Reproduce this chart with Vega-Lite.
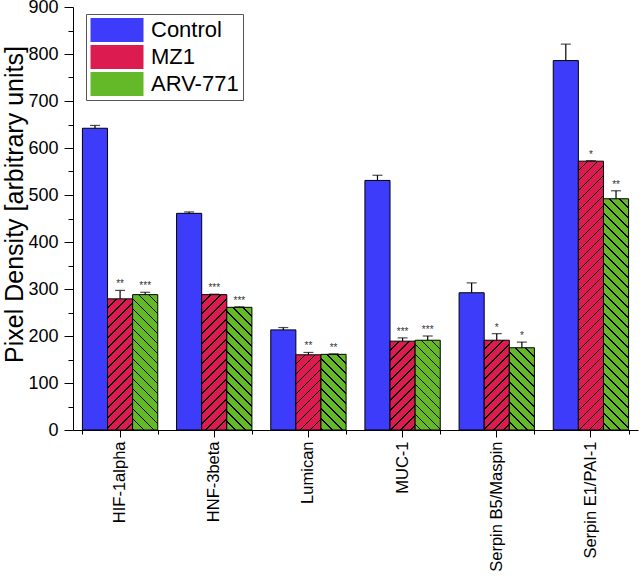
{
  "$schema": "https://vega.github.io/schema/vega-lite/v6.json",
  "width": 565,
  "height": 423,
  "autosize": {"type": "none"},
  "padding": {"left": 73, "top": 7, "right": 5, "bottom": 146},
  "background": "white",
  "params": [
    {"name": "sR", "value": [
      {"offset":0,"color":"#dc1c50"},{"offset":0.0283,"color":"#dc1c50"},{"offset":0.0283,"color":"#000"},{"offset":0.0333,"color":"#000"},
      {"offset":0.0333,"color":"#dc1c50"},{"offset":0.0617,"color":"#dc1c50"},{"offset":0.0617,"color":"#000"},{"offset":0.0667,"color":"#000"},
      {"offset":0.0667,"color":"#dc1c50"},{"offset":0.095,"color":"#dc1c50"},{"offset":0.095,"color":"#000"},{"offset":0.1,"color":"#000"},
      {"offset":0.1,"color":"#dc1c50"},{"offset":0.1283,"color":"#dc1c50"},{"offset":0.1283,"color":"#000"},{"offset":0.1333,"color":"#000"},
      {"offset":0.1333,"color":"#dc1c50"},{"offset":0.1617,"color":"#dc1c50"},{"offset":0.1617,"color":"#000"},{"offset":0.1667,"color":"#000"},
      {"offset":0.1667,"color":"#dc1c50"},{"offset":0.195,"color":"#dc1c50"},{"offset":0.195,"color":"#000"},{"offset":0.2,"color":"#000"},
      {"offset":0.2,"color":"#dc1c50"},{"offset":0.2283,"color":"#dc1c50"},{"offset":0.2283,"color":"#000"},{"offset":0.2333,"color":"#000"},
      {"offset":0.2333,"color":"#dc1c50"},{"offset":0.2617,"color":"#dc1c50"},{"offset":0.2617,"color":"#000"},{"offset":0.2667,"color":"#000"},
      {"offset":0.2667,"color":"#dc1c50"},{"offset":0.295,"color":"#dc1c50"},{"offset":0.295,"color":"#000"},{"offset":0.3,"color":"#000"},
      {"offset":0.3,"color":"#dc1c50"},{"offset":0.3283,"color":"#dc1c50"},{"offset":0.3283,"color":"#000"},{"offset":0.3333,"color":"#000"},
      {"offset":0.3333,"color":"#dc1c50"},{"offset":0.3617,"color":"#dc1c50"},{"offset":0.3617,"color":"#000"},{"offset":0.3667,"color":"#000"},
      {"offset":0.3667,"color":"#dc1c50"},{"offset":0.395,"color":"#dc1c50"},{"offset":0.395,"color":"#000"},{"offset":0.4,"color":"#000"},
      {"offset":0.4,"color":"#dc1c50"},{"offset":0.4283,"color":"#dc1c50"},{"offset":0.4283,"color":"#000"},{"offset":0.4333,"color":"#000"},
      {"offset":0.4333,"color":"#dc1c50"},{"offset":0.4617,"color":"#dc1c50"},{"offset":0.4617,"color":"#000"},{"offset":0.4667,"color":"#000"},
      {"offset":0.4667,"color":"#dc1c50"},{"offset":0.495,"color":"#dc1c50"},{"offset":0.495,"color":"#000"},{"offset":0.5,"color":"#000"},
      {"offset":0.5,"color":"#dc1c50"},{"offset":0.5283,"color":"#dc1c50"},{"offset":0.5283,"color":"#000"},{"offset":0.5333,"color":"#000"},
      {"offset":0.5333,"color":"#dc1c50"},{"offset":0.5617,"color":"#dc1c50"},{"offset":0.5617,"color":"#000"},{"offset":0.5667,"color":"#000"},
      {"offset":0.5667,"color":"#dc1c50"},{"offset":0.595,"color":"#dc1c50"},{"offset":0.595,"color":"#000"},{"offset":0.6,"color":"#000"},
      {"offset":0.6,"color":"#dc1c50"},{"offset":0.6283,"color":"#dc1c50"},{"offset":0.6283,"color":"#000"},{"offset":0.6333,"color":"#000"},
      {"offset":0.6333,"color":"#dc1c50"},{"offset":0.6617,"color":"#dc1c50"},{"offset":0.6617,"color":"#000"},{"offset":0.6667,"color":"#000"},
      {"offset":0.6667,"color":"#dc1c50"},{"offset":0.695,"color":"#dc1c50"},{"offset":0.695,"color":"#000"},{"offset":0.7,"color":"#000"},
      {"offset":0.7,"color":"#dc1c50"},{"offset":0.7283,"color":"#dc1c50"},{"offset":0.7283,"color":"#000"},{"offset":0.7333,"color":"#000"},
      {"offset":0.7333,"color":"#dc1c50"},{"offset":0.7617,"color":"#dc1c50"},{"offset":0.7617,"color":"#000"},{"offset":0.7667,"color":"#000"},
      {"offset":0.7667,"color":"#dc1c50"},{"offset":0.795,"color":"#dc1c50"},{"offset":0.795,"color":"#000"},{"offset":0.8,"color":"#000"},
      {"offset":0.8,"color":"#dc1c50"},{"offset":0.8283,"color":"#dc1c50"},{"offset":0.8283,"color":"#000"},{"offset":0.8333,"color":"#000"},
      {"offset":0.8333,"color":"#dc1c50"},{"offset":0.8617,"color":"#dc1c50"},{"offset":0.8617,"color":"#000"},{"offset":0.8667,"color":"#000"},
      {"offset":0.8667,"color":"#dc1c50"},{"offset":0.895,"color":"#dc1c50"},{"offset":0.895,"color":"#000"},{"offset":0.9,"color":"#000"},
      {"offset":0.9,"color":"#dc1c50"},{"offset":0.9283,"color":"#dc1c50"},{"offset":0.9283,"color":"#000"},{"offset":0.9333,"color":"#000"},
      {"offset":0.9333,"color":"#dc1c50"},{"offset":0.9617,"color":"#dc1c50"},{"offset":0.9617,"color":"#000"},{"offset":0.9667,"color":"#000"},
      {"offset":0.9667,"color":"#dc1c50"},{"offset":0.995,"color":"#dc1c50"},{"offset":0.995,"color":"#000"},{"offset":1,"color":"#000"}
    ]},
    {"name": "sG", "value": [
      {"offset":0,"color":"#64b928"},{"offset":0.0283,"color":"#64b928"},{"offset":0.0283,"color":"#000"},{"offset":0.0333,"color":"#000"},
      {"offset":0.0333,"color":"#64b928"},{"offset":0.0617,"color":"#64b928"},{"offset":0.0617,"color":"#000"},{"offset":0.0667,"color":"#000"},
      {"offset":0.0667,"color":"#64b928"},{"offset":0.095,"color":"#64b928"},{"offset":0.095,"color":"#000"},{"offset":0.1,"color":"#000"},
      {"offset":0.1,"color":"#64b928"},{"offset":0.1283,"color":"#64b928"},{"offset":0.1283,"color":"#000"},{"offset":0.1333,"color":"#000"},
      {"offset":0.1333,"color":"#64b928"},{"offset":0.1617,"color":"#64b928"},{"offset":0.1617,"color":"#000"},{"offset":0.1667,"color":"#000"},
      {"offset":0.1667,"color":"#64b928"},{"offset":0.195,"color":"#64b928"},{"offset":0.195,"color":"#000"},{"offset":0.2,"color":"#000"},
      {"offset":0.2,"color":"#64b928"},{"offset":0.2283,"color":"#64b928"},{"offset":0.2283,"color":"#000"},{"offset":0.2333,"color":"#000"},
      {"offset":0.2333,"color":"#64b928"},{"offset":0.2617,"color":"#64b928"},{"offset":0.2617,"color":"#000"},{"offset":0.2667,"color":"#000"},
      {"offset":0.2667,"color":"#64b928"},{"offset":0.295,"color":"#64b928"},{"offset":0.295,"color":"#000"},{"offset":0.3,"color":"#000"},
      {"offset":0.3,"color":"#64b928"},{"offset":0.3283,"color":"#64b928"},{"offset":0.3283,"color":"#000"},{"offset":0.3333,"color":"#000"},
      {"offset":0.3333,"color":"#64b928"},{"offset":0.3617,"color":"#64b928"},{"offset":0.3617,"color":"#000"},{"offset":0.3667,"color":"#000"},
      {"offset":0.3667,"color":"#64b928"},{"offset":0.395,"color":"#64b928"},{"offset":0.395,"color":"#000"},{"offset":0.4,"color":"#000"},
      {"offset":0.4,"color":"#64b928"},{"offset":0.4283,"color":"#64b928"},{"offset":0.4283,"color":"#000"},{"offset":0.4333,"color":"#000"},
      {"offset":0.4333,"color":"#64b928"},{"offset":0.4617,"color":"#64b928"},{"offset":0.4617,"color":"#000"},{"offset":0.4667,"color":"#000"},
      {"offset":0.4667,"color":"#64b928"},{"offset":0.495,"color":"#64b928"},{"offset":0.495,"color":"#000"},{"offset":0.5,"color":"#000"},
      {"offset":0.5,"color":"#64b928"},{"offset":0.5283,"color":"#64b928"},{"offset":0.5283,"color":"#000"},{"offset":0.5333,"color":"#000"},
      {"offset":0.5333,"color":"#64b928"},{"offset":0.5617,"color":"#64b928"},{"offset":0.5617,"color":"#000"},{"offset":0.5667,"color":"#000"},
      {"offset":0.5667,"color":"#64b928"},{"offset":0.595,"color":"#64b928"},{"offset":0.595,"color":"#000"},{"offset":0.6,"color":"#000"},
      {"offset":0.6,"color":"#64b928"},{"offset":0.6283,"color":"#64b928"},{"offset":0.6283,"color":"#000"},{"offset":0.6333,"color":"#000"},
      {"offset":0.6333,"color":"#64b928"},{"offset":0.6617,"color":"#64b928"},{"offset":0.6617,"color":"#000"},{"offset":0.6667,"color":"#000"},
      {"offset":0.6667,"color":"#64b928"},{"offset":0.695,"color":"#64b928"},{"offset":0.695,"color":"#000"},{"offset":0.7,"color":"#000"},
      {"offset":0.7,"color":"#64b928"},{"offset":0.7283,"color":"#64b928"},{"offset":0.7283,"color":"#000"},{"offset":0.7333,"color":"#000"},
      {"offset":0.7333,"color":"#64b928"},{"offset":0.7617,"color":"#64b928"},{"offset":0.7617,"color":"#000"},{"offset":0.7667,"color":"#000"},
      {"offset":0.7667,"color":"#64b928"},{"offset":0.795,"color":"#64b928"},{"offset":0.795,"color":"#000"},{"offset":0.8,"color":"#000"},
      {"offset":0.8,"color":"#64b928"},{"offset":0.8283,"color":"#64b928"},{"offset":0.8283,"color":"#000"},{"offset":0.8333,"color":"#000"},
      {"offset":0.8333,"color":"#64b928"},{"offset":0.8617,"color":"#64b928"},{"offset":0.8617,"color":"#000"},{"offset":0.8667,"color":"#000"},
      {"offset":0.8667,"color":"#64b928"},{"offset":0.895,"color":"#64b928"},{"offset":0.895,"color":"#000"},{"offset":0.9,"color":"#000"},
      {"offset":0.9,"color":"#64b928"},{"offset":0.9283,"color":"#64b928"},{"offset":0.9283,"color":"#000"},{"offset":0.9333,"color":"#000"},
      {"offset":0.9333,"color":"#64b928"},{"offset":0.9617,"color":"#64b928"},{"offset":0.9617,"color":"#000"},{"offset":0.9667,"color":"#000"},
      {"offset":0.9667,"color":"#64b928"},{"offset":0.995,"color":"#64b928"},{"offset":0.995,"color":"#000"},{"offset":1,"color":"#000"}
    ]}
  ],
  "data": {"values": [
    {"gene": "HIF-1alpha", "group": "Control", "value": 642, "upper": 648, "sig": ""},
    {"gene": "HIF-1alpha", "group": "MZ1", "value": 279, "upper": 297, "sig": "**"},
    {"gene": "HIF-1alpha", "group": "ARV-771", "value": 288, "upper": 293, "sig": "***"},
    {"gene": "HNF-3beta", "group": "Control", "value": 461, "upper": 464, "sig": ""},
    {"gene": "HNF-3beta", "group": "MZ1", "value": 288, "upper": 289, "sig": "***"},
    {"gene": "HNF-3beta", "group": "ARV-771", "value": 261, "upper": 262, "sig": "***"},
    {"gene": "Lumican", "group": "Control", "value": 213, "upper": 218, "sig": ""},
    {"gene": "Lumican", "group": "MZ1", "value": 160, "upper": 165, "sig": "**"},
    {"gene": "Lumican", "group": "ARV-771", "value": 161, "upper": 162, "sig": "**"},
    {"gene": "MUC-1", "group": "Control", "value": 531, "upper": 542, "sig": ""},
    {"gene": "MUC-1", "group": "MZ1", "value": 189, "upper": 196, "sig": "***"},
    {"gene": "MUC-1", "group": "ARV-771", "value": 191, "upper": 200, "sig": "***"},
    {"gene": "Serpin B5/Maspin", "group": "Control", "value": 292, "upper": 313, "sig": ""},
    {"gene": "Serpin B5/Maspin", "group": "MZ1", "value": 191, "upper": 205, "sig": "*"},
    {"gene": "Serpin B5/Maspin", "group": "ARV-771", "value": 175, "upper": 187, "sig": "*"},
    {"gene": "Serpin E1/PAI-1", "group": "Control", "value": 786, "upper": 821, "sig": ""},
    {"gene": "Serpin E1/PAI-1", "group": "MZ1", "value": 572, "upper": 573, "sig": "*"},
    {"gene": "Serpin E1/PAI-1", "group": "ARV-771", "value": 492, "upper": 509, "sig": "**"}
  ]},
  "encoding": {
    "x": {"field": "gene", "type": "nominal", "sort": null, "axis": null,
          "scale": {"paddingInner": 0.2, "paddingOuter": 0.1}},
    "xOffset": {"field": "group", "type": "nominal", "sort": ["Control", "MZ1", "ARV-771"],
                "scale": {"paddingInner": 0, "paddingOuter": 0}}
  },
  "layer": [
    {
      "transform": [
        {"calculate": "datum.group === 'MZ1' ? {gradient: 'linear', x1: 0, y1: 0, x2: 7533 / (630.6 + pow(datum.value * 0.47, 2)), y2: 141 * datum.value / (630.6 + pow(datum.value * 0.47, 2)), stops: sR} : datum.group === 'ARV-771' ? {gradient: 'linear', x1: 1, y1: 0, x2: 1 - 7533 / (630.6 + pow(datum.value * 0.47, 2)), y2: 141 * datum.value / (630.6 + pow(datum.value * 0.47, 2)), stops: sG} : '#3c3cfa'", "as": "grad"}
      ],
      "mark": {"type": "bar", "stroke": "#000", "strokeWidth": 1},
      "encoding": {
        "x": {"field": "gene", "type": "nominal", "sort": null,
              "scale": {"paddingInner": 0.2, "paddingOuter": 0.1},
              "axis": {"orient": "bottom", "title": null, "labelAngle": -90, "labelFontSize": 16.5,
                       "labelPadding": 4, "tickSize": 7, "labelLimit": 300, "domain": true, "domainColor": "#000",
                       "tickColor": "#000", "labelColor": "#000", "grid": false}},
        "y": {"field": "value", "type": "quantitative", "stack": null,
              "scale": {"domain": [0, 900], "nice": false},
              "axis": {"orient": "left", "values": [0,100,200,300,400,500,600,700,800,900],
                       "title": "Pixel Density [arbitrary units]", "titleFontSize": 25,
                       "titleFontWeight": "normal", "titlePadding": 0, "titleColor": "#000",
                       "titleX": -46, "titleY": 197, "titleAngle": -90, "titleBaseline": "bottom", "titleAlign": "center",
                       "labelFontSize": 18, "labelPadding": 6, "tickSize": 9, "grid": false, "domain": true,
                       "domainColor": "#000", "tickColor": "#000", "labelColor": "#000"}},
        "fill": {"field": "grad", "type": "nominal", "scale": null}
      }
    },
    {
      "mark": {"type": "bar", "opacity": 0},
      "encoding": {
        "y": {"field": "value", "type": "quantitative", "stack": null, "axis": null},
        "color": {"field": "group", "type": "nominal",
                  "scale": {"domain": ["Control", "MZ1", "ARV-771"], "range": ["#3c3cfa", "#dc1c50", "#64b928"]},
                  "legend": {
                    "title": null, "orient": "none", "legendX": 13, "legendY": 7,
                    "symbolType": "M-1,-0.453L1,-0.453L1,0.453L-1,0.453Z", "symbolSize": 2809,
                    "symbolStrokeColor": "#000", "symbolStrokeWidth": 1, "symbolOpacity": 1,
                    "clipHeight": 24, "rowPadding": 3, "labelOffset": 7, "labelFontSize": 22,
                    "labelColor": "#000", "labelLimit": 300, "padding": 4,
                    "strokeColor": "#555", "fillColor": "#fff",
                    "encode": {"symbols": {"update": {
                      "opacity": {"value": 1},
                      "fill": {"signal": "datum.value === 'MZ1' ? {gradient: 'linear', x1: 0, y1: 0, x2: 4.697, y2: 2.127, stops: sR} : datum.value === 'ARV-771' ? {gradient: 'linear', x1: 1, y1: 0, x2: -3.697, y2: 2.127, stops: sG} : '#3c3cfa'"}
                    }}}
                  }}
      }
    },
    {
      "mark": {"type": "rule", "color": "#000", "strokeWidth": 1.2},
      "encoding": {
        "x": {"field": "gene", "type": "nominal", "sort": null,
              "scale": {"paddingInner": 0.2, "paddingOuter": 0.1},
              "axis": {"orient": "bottom", "tickBand": "extent", "labels": false, "domain": false,
                       "tickSize": 4, "title": null, "grid": false, "tickColor": "#000"}},
        "y": {"field": "value", "type": "quantitative",
              "axis": {"orient": "left", "values": [50,150,250,350,450,550,650,750,850],
                       "labels": false, "domain": false, "tickSize": 5, "title": null,
                       "grid": false, "tickColor": "#000"}},
        "y2": {"field": "upper"}
      }
    },
    {
      "mark": {"type": "tick", "color": "#000", "size": 10, "thickness": 1.2, "orient": "horizontal"},
      "encoding": {
        "y": {"field": "upper", "type": "quantitative", "axis": null}
      }
    },
    {
      "mark": {"type": "text", "fontSize": 10, "color": "#333", "baseline": "alphabetic", "dy": -3},
      "encoding": {
        "y": {"field": "upper", "type": "quantitative", "axis": null},
        "text": {"field": "sig", "type": "nominal"}
      }
    }
  ],
  "resolve": {"axis": {"x": "independent", "y": "independent"}},
  "config": {
    "font": "Liberation Sans",
    "view": {"stroke": null},
    "axis": {"labelFont": "Liberation Sans", "titleFont": "Liberation Sans", "grid": false, "domain": false},
    "axisRight": {"domain": false, "ticks": false, "labels": false},
    "axisTop": {"domain": false, "ticks": false, "labels": false},
    "legend": {"labelFont": "Liberation Sans"}
  }
}
